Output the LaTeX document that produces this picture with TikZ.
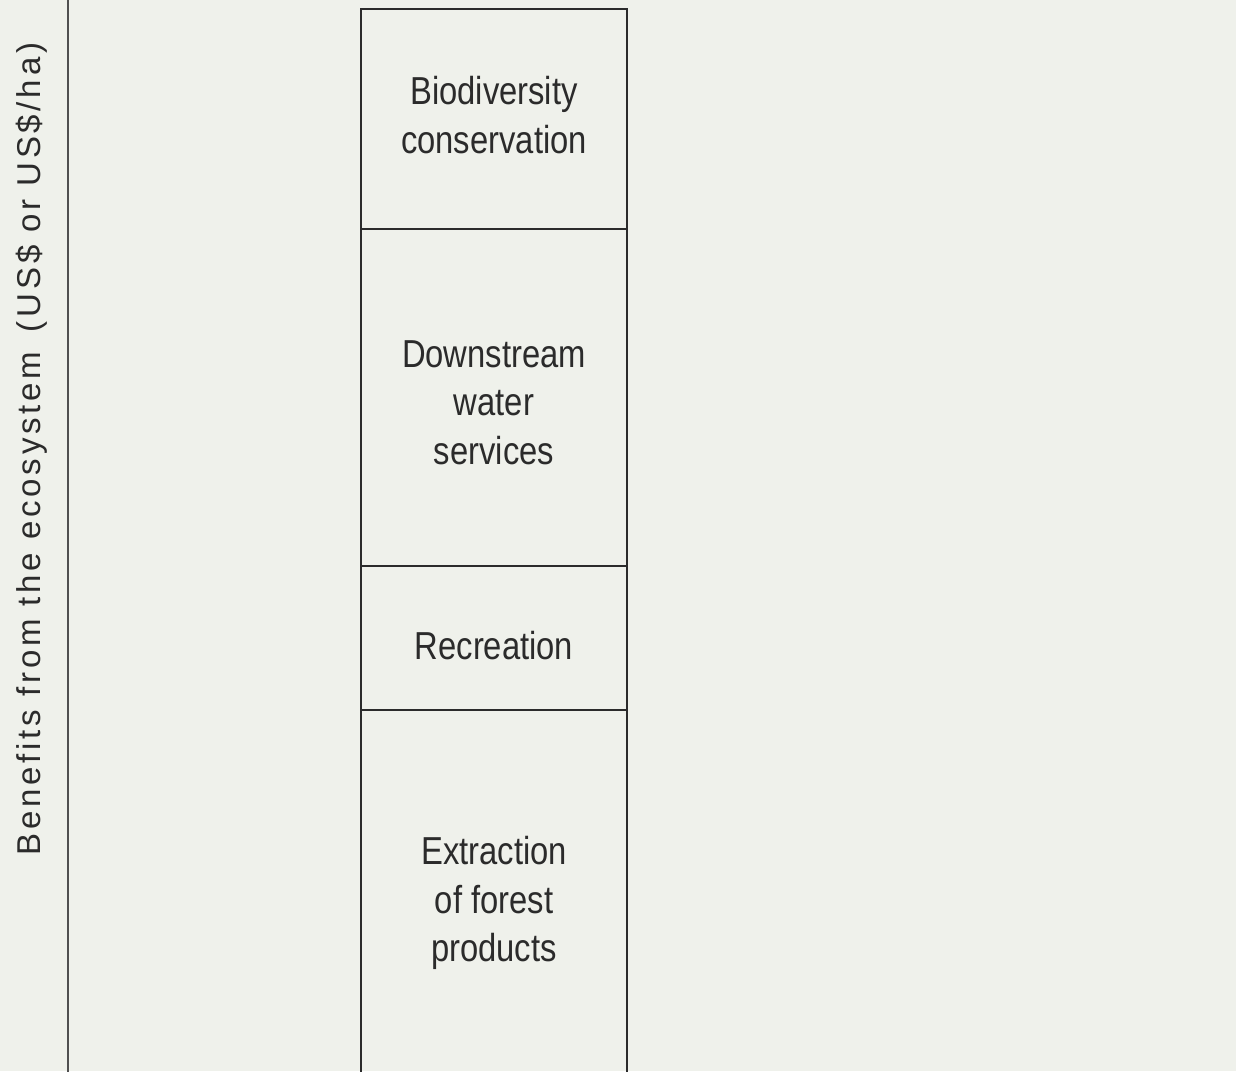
\documentclass[tikz,border=0pt]{standalone}
\usepackage{fontspec}
\setmainfont{Liberation Sans}
\newfontfamily\barfont{Liberation Sans}[FakeStretch=0.84]
\newfontfamily\axisfont{Liberation Sans}[LetterSpace=11.5]
\definecolor{paper}{HTML}{EFF1EB}
\definecolor{ink}{HTML}{2B2B2B}
\definecolor{axisgrey}{HTML}{505050}
\tikzset{
  seg/.style={draw=ink, line width=1.8pt, minimum width=266pt, inner sep=0pt},
  segtext/.style={text=ink, align=center, inner sep=0pt,
    font=\barfont\fontsize{39}{48.5}\selectfont},
  axislabel/.style={text=ink, inner sep=0pt, anchor=base, rotate=90,
    font=\axisfont\fontsize{33}{40}\selectfont}
}
\begin{document}
\begin{tikzpicture}[x=1pt,y=-1pt]
  \useasboundingbox (0,0) rectangle (1236,1071);
  \clip (0,0) rectangle (1236,1071);
  \fill[paper] (0,0) rectangle (1236,1071);
  % vertical axis
  \coordinate (axtop) at (68,-5);
  \coordinate (axbot) at (68,1080);
  \draw[axisgrey, line width=2.8pt] (axtop) -- (axbot);
  \node[axislabel] (ylab) at (40,449) {Benefits from the ecosystem\hspace{0.2em} (US\$ or US\$/ha)};
  % stacked bar, top to bottom
  \node[seg, minimum height=220pt] (bio) at (494,119) {};
  \node[seg, minimum height=337pt] (water) at (494,397.5) {};
  \node[seg, minimum height=144pt] (rec) at (494,638) {};
  \node[seg, minimum height=380pt] (forest) at (494,900) {};
  % segment captions
  \node[segtext] (biotext) at ([yshift=4pt]bio.center) {Biodiversity\\conservation};
  \node[segtext] (watertext) at ([yshift=-5pt]water.center) {Downstream\\water\\services};
  \node[segtext] (rectext) at ([yshift=-8pt]rec.center) {Recreation};
  \node[segtext] (foresttext) at ([yshift=-3pt]forest.center) {Extraction\\of forest\\products};
\end{tikzpicture}
\end{document}
